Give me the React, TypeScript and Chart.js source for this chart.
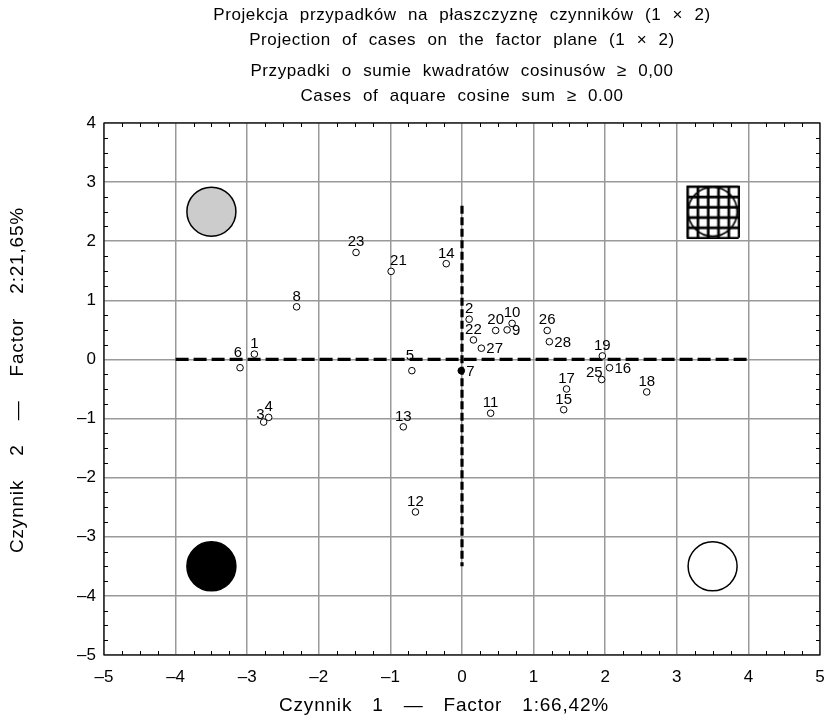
import React, { useEffect, useRef } from "react";
import { Chart, registerables } from "chart.js";

Chart.register(...registerables);

// ---- data ----
const caseIds = ["1", "2", "3", "4", "5", "6", "7", "8", "9", "10", "11", "12", "13", "14", "15", "16", "17", "18", "19", "20", "21", "22", "23", "25", "26", "27", "28"];
const factor1 = [-2.90, 0.10, -2.77, -2.70, -0.70, -3.10, -0.01, -2.31, 0.63, 0.70, 0.40, -0.65, -0.82, -0.22, 1.42, 2.06, 1.46, 2.58, 1.96, 0.47, -0.99, 0.16, -1.48, 1.95, 1.19, 0.27, 1.22];
const factor2 = [0.09, 0.68, -1.06, -0.98, -0.19, -0.14, -0.19, 0.89, 0.50, 0.61, -0.91, -2.58, -1.14, 1.62, -0.85, -0.14, -0.50, -0.55, 0.06, 0.49, 1.49, 0.33, 1.81, -0.34, 0.49, 0.19, 0.30];
const labelSide = ["t", "t", "tl", "t", "T", "T", "r", "t", "r", "t", "t", "t", "t", "t", "t", "r", "t", "t", "t", "t", "tr", "t", "t", "tl", "t", "r", "r"];
const filledCases = ["7"];

const cornerX = [-3.5, -3.5, 3.5];
const cornerY = [2.5, -3.5, -3.5];
const cornerFill = ["#cccccc", "#000000", "#ffffff"];
const hatchX = [3.5];
const hatchY = [2.5];

const hAxisX = [-4, 4];
const hAxisY = [0, 0];
const vAxisX = [0, 0];
const vAxisY = [2.6, -3.5];

const titleLines = [
  "Projekcja przypadków na płaszczyznę czynników (1 × 2)",
  "Projection of cases on the factor plane (1 × 2)",
  "Przypadki o sumie kwadratów cosinusów ≥ 0,00",
  "Cases of aquare cosine sum ≥ 0.00",
];
const xTitle = "Czynnik 1 — Factor 1:66,42%";
const yTitle = "Czynnik 2 — Factor 2:21,65%";

const xMin = -5, xMax = 5, yMin = -5, yMax = 4;
const minorStep = 0.25;

const FONT = "'Liberation Sans', Arial, sans-serif";

function makeHatch(): HTMLCanvasElement {
  const c = document.createElement("canvas");
  c.width = 54;
  c.height = 54;
  const g = c.getContext("2d")!;
  g.fillStyle = "#fff";
  g.fillRect(1, 1, 52, 52);
  g.strokeStyle = "#000";
  g.lineWidth = 2.7;
  for (let i = 0; i <= 5; i++) {
    const p = 2 + i * 10.3;
    g.beginPath();
    g.moveTo(p, 1);
    g.lineTo(p, 53);
    g.stroke();
    g.beginPath();
    g.moveTo(1, p);
    g.lineTo(53, p);
    g.stroke();
  }
  g.lineWidth = 1.6;
  g.beginPath();
  g.arc(27, 27, 24.5, 0, Math.PI * 2);
  g.stroke();
  return c;
}

const decor = {
  id: "decor",
  beforeDraw(chart: any) {
    const ctx = chart.ctx;
    ctx.save();
    ctx.fillStyle = "#fff";
    ctx.fillRect(0, 0, chart.width, chart.height);
    ctx.restore();
  },
  afterDatasetsDraw(chart: any) {
    const ctx = chart.ctx;
    const { left, right, top, bottom } = chart.chartArea;
    const xs = chart.scales.x;
    const ys = chart.scales.y;
    ctx.save();
    // frame
    ctx.strokeStyle = "#000";
    ctx.lineWidth = 1.2;
    ctx.strokeRect(left, top, right - left, bottom - top);
    // minor ticks (inward)
    ctx.lineWidth = 1;
    ctx.beginPath();
    for (let v = xMin; v <= xMax + 1e-9; v += minorStep) {
      if (Math.abs(v - Math.round(v)) < 1e-9) continue;
      const p = Math.round(xs.getPixelForValue(v)) + 0.5;
      ctx.moveTo(p, bottom);
      ctx.lineTo(p, bottom - 4);
      ctx.moveTo(p, top);
      ctx.lineTo(p, top + 4);
    }
    for (let v = yMin; v <= yMax + 1e-9; v += minorStep) {
      if (Math.abs(v - Math.round(v)) < 1e-9) continue;
      const p = Math.round(ys.getPixelForValue(v)) + 0.5;
      ctx.moveTo(left, p);
      ctx.lineTo(left + 4, p);
      ctx.moveTo(right, p);
      ctx.lineTo(right - 4, p);
    }
    ctx.stroke();

    // case labels
    const meta = chart.getDatasetMeta(0);
    ctx.fillStyle = "#000";
    ctx.font = `15px ${FONT}`;
    meta.data.forEach((el: any, i: number) => {
      const side = labelSide[i];
      const t = caseIds[i];
      if (side === "r") {
        ctx.textAlign = "left";
        ctx.textBaseline = "middle";
        ctx.fillText(t, el.x + 5, el.y + 1);
      } else if (side === "tl") {
        ctx.textAlign = "right";
        ctx.textBaseline = "alphabetic";
        ctx.fillText(t, el.x + 1, el.y - 3);
      } else if (side === "tr") {
        ctx.textAlign = "left";
        ctx.textBaseline = "alphabetic";
        ctx.fillText(t, el.x - 1, el.y - 6);
      } else if (side === "T") {
        ctx.textAlign = "center";
        ctx.textBaseline = "alphabetic";
        ctx.fillText(t, el.x - 2, el.y - 11);
      } else {
        ctx.textAlign = "center";
        ctx.textBaseline = "alphabetic";
        ctx.fillText(t, el.x, el.y - 6);
      }
    });

    // titles
    const cx = (left + right) / 2;
    ctx.textAlign = "center";
    ctx.textBaseline = "middle";
    ctx.font = `17px ${FONT}`;
    (ctx as any).letterSpacing = "0.6px";
    (ctx as any).wordSpacing = "6px";
    const ty = [15, 40, 71, 96];
    titleLines.forEach((s, i) => ctx.fillText(s, cx, ty[i]));

    // axis titles
    ctx.font = `19px ${FONT}`;
    (ctx as any).letterSpacing = "0.8px";
    (ctx as any).wordSpacing = "14px";
    ctx.fillText(xTitle, cx - 18, 706);
    ctx.save();
    ctx.translate(18, 380);
    ctx.rotate(-Math.PI / 2);
    (ctx as any).wordSpacing = "18px";
    ctx.fillText(yTitle, 0, 0);
    ctx.restore();
    ctx.restore();
  },
};

export default function App() {
  const ref = useRef<HTMLCanvasElement | null>(null);
  useEffect(() => {
    if (!ref.current) return;
    const hatch = makeHatch();
    const pts = factor1.map((x, i) => ({ x, y: factor2[i] }));
    const tickCb = (v: any) => String(v).replace("-", "\u2013");
    const chart = new Chart(ref.current, {
      type: "scatter",
      data: {
        datasets: [
          {
            data: pts,
            pointRadius: 3.3,
            pointBorderWidth: 1,
            pointBorderColor: "#000",
            pointBackgroundColor: caseIds.map((c) => (filledCases.includes(c) ? "#000" : "#fff")),
            order: 0,
          } as any,
          {
            data: hAxisX.map((x, i) => ({ x, y: hAxisY[i] })),
            showLine: true,
            borderColor: "#000",
            borderWidth: 3.2,
            borderDash: [13, 5],
            pointRadius: 0,
            order: 1,
          },
          {
            data: vAxisX.map((x, i) => ({ x, y: vAxisY[i] })),
            showLine: true,
            borderColor: "#000",
            borderWidth: 3.2,
            borderDash: [8, 3.5],
            pointRadius: 0,
            order: 1,
          },
          {
            data: cornerX.map((x, i) => ({ x, y: cornerY[i] })),
            pointRadius: 24.5,
            pointBorderWidth: 1.5,
            pointBorderColor: "#000",
            pointBackgroundColor: cornerFill,
            order: 2,
          } as any,
          {
            data: hatchX.map((x, i) => ({ x, y: hatchY[i] })),
            pointStyle: hatch,
            order: 2,
          } as any,
        ],
      },
      options: {
        animation: false,
        responsive: false,
        events: [],
        layout: { autoPadding: false, padding: { top: 123, right: 7, left: 0, bottom: 0 } },
        plugins: { legend: { display: false }, tooltip: { enabled: false }, title: { display: false } },
        scales: {
          x: {
            type: "linear",
            min: xMin,
            max: xMax,
            afterFit: (s: any) => { s.height = 65; s.paddingLeft = 0; s.paddingRight = 0; },
            ticks: { stepSize: 1, color: "#000", font: { family: FONT, size: 17 }, padding: 12, callback: tickCb },
            grid: { color: "#999", lineWidth: 1.5, drawTicks: false },
            border: { display: false },
          },
          y: {
            type: "linear",
            min: yMin,
            max: yMax,
            afterFit: (s: any) => { s.width = 104; s.paddingTop = 0; s.paddingBottom = 0; },
            ticks: { stepSize: 1, color: "#000", font: { family: FONT, size: 17 }, padding: 8, callback: tickCb },
            grid: { color: "#999", lineWidth: 1.5, drawTicks: false },
            border: { display: false },
          },
        },
      } as any,
      plugins: [decor],
    });
    return () => chart.destroy();
  }, []);
  return (
    <div style={{ position: "absolute", left: 0, top: 0, width: 827, height: 720 }}>
      <canvas ref={ref} width={827} height={720} />
    </div>
  );
}
